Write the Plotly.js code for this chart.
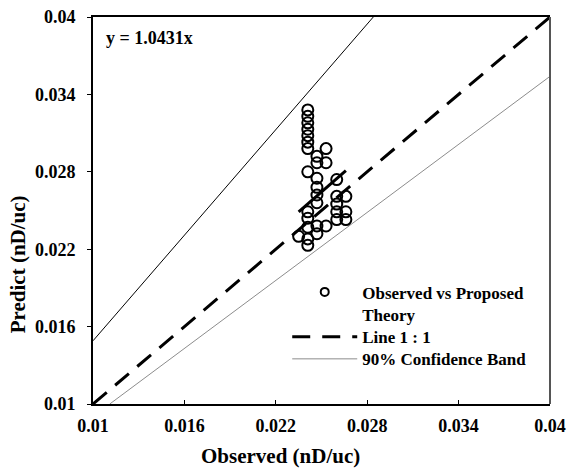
<!DOCTYPE html>
<html>
<head>
<meta charset="utf-8">
<script src="https://cdn.plot.ly/plotly-3.0.1.min.js"></script>
<style>html,body{margin:0;padding:0;background:#fff;}#chart{width:567px;height:468px;}</style>
</head>
<body>
<div id="chart"></div>
<script>
// Observed vs predicted points
var observed = [
  0.0241,0.0241,0.0241,0.0241,0.0241,0.0241,0.0241,0.0241,0.0241,0.0241,0.0241,0.0241,0.0241,
  0.0247,0.0247,0.0247,0.0247,0.0247,0.0247,0.0247,0.0247,
  0.0253,0.0253,0.0253,
  0.0260,0.0260,0.0260,0.0260,0.0260,
  0.0266,0.0266,0.0266,
  0.0235
];
var predicted = [
  0.0328,0.0323,0.0318,0.0313,0.0308,0.0303,0.0298,0.0280,0.0249,0.0244,0.0237,0.0228,0.0223,
  0.0292,0.0287,0.0275,0.0268,0.0262,0.0256,0.0238,0.0232,
  0.0298,0.0287,0.0238,
  0.0274,0.0261,0.0255,0.0249,0.0243,
  0.0261,0.0249,0.0243,
  0.0230
];
// Line 1:1
var oneX = [0.01, 0.04];
var oneY = [0.01, 0.04];
// Regression fit y = 1.0431x (short segment)
var fitX = [0.0235, 0.0266];
var fitY = [0.0249, 0.0281];
// 90% confidence band
var upperX = [0.01, 0.0284];
var upperY = [0.0149, 0.04];
var lowerX = [0.0111, 0.04];
var lowerY = [0.01, 0.0354];
// Axis ticks
var tickVals = [0.01, 0.016, 0.022, 0.028, 0.034, 0.04];
var tickText = ["0.01", "0.016", "0.022", "0.028", "0.034", "0.04"];

var serif = 'Liberation Serif, Times New Roman, serif';
var legFont = {family: serif, size: 17, weight: 'bold', color: '#000'};

var traces = [
  {x: upperX, y: upperY, mode: 'lines', line: {color: '#000', width: 1}, showlegend: false, hoverinfo: 'skip'},
  {x: lowerX, y: lowerY, mode: 'lines', line: {color: '#8c8c8c', width: 1}, showlegend: false, hoverinfo: 'skip'},
  {x: oneX, y: oneY, mode: 'lines', line: {color: '#000', width: 3, dash: '18px,11px'}, showlegend: false},
  {x: fitX, y: fitY, mode: 'lines', line: {color: '#000', width: 3}, showlegend: false},
  {x: observed, y: predicted, mode: 'markers', showlegend: false,
   marker: {symbol: 'circle-open', size: 11, color: '#000', line: {width: 2, color: '#000'}}},
  // legend entries
  {x: [null], y: [null], mode: 'markers', name: 'Observed vs Proposed<br>Theory', legend: 'legend',
   marker: {symbol: 'circle-open', size: 8, color: '#000', line: {width: 2, color: '#000'}}},
  {x: [null], y: [null], mode: 'lines', name: 'Line 1 : 1', legend: 'legend2',
   line: {color: '#000', width: 3, dash: '18px,12px'}},
  {x: [null], y: [null], mode: 'lines', name: '90% Confidence Band', legend: 'legend3',
   line: {color: '#8c8c8c', width: 1}}
];

function leg(y) {
  return {x: 0.425, y: y, xanchor: 'left', yanchor: 'top', bgcolor: 'rgba(0,0,0,0)',
          borderwidth: 0, itemwidth: 65, valign: 'top', font: legFont};
}

var layout = {
  width: 567, height: 468,
  margin: {l: 93, r: 17, t: 17, b: 64},
  paper_bgcolor: '#fff', plot_bgcolor: '#fff',
  font: {family: serif, color: '#000', size: 18, weight: 'bold'},
  xaxis: {
    range: [0.01, 0.04], tickvals: tickVals, ticktext: tickText,
    showgrid: false, zeroline: false, showline: true, linecolor: '#000', linewidth: 2,
    mirror: true, ticks: 'inside', ticklen: 4, tickwidth: 1, tickcolor: '#000',
    ticklabelstandoff: 4,
    tickfont: {family: serif, size: 18, weight: 'bold', color: '#000'}
  },
  yaxis: {
    range: [0.01, 0.04], tickvals: tickVals, ticktext: tickText,
    showgrid: false, zeroline: false, showline: true, linecolor: '#000', linewidth: 2,
    ticks: 'outside', ticklen: 4, tickwidth: 1, tickcolor: '#000',
    ticklabelstandoff: 8,
    tickfont: {family: serif, size: 18, weight: 'bold', color: '#000'}
  },
  shapes: [
    {type: 'line', xref: 'paper', yref: 'paper', x0: 1, x1: 1, y0: 0, y1: 1,
     line: {color: '#555', width: 2}}
  ],
  annotations: [
    {text: 'Observed (nD/uc)', xref: 'paper', yref: 'paper', x: 0.41, y: -0.135,
     xanchor: 'center', yanchor: 'middle', showarrow: false,
     font: {family: serif, size: 21, weight: 'bold', color: '#000'}},
    {text: 'Predict (nD/uc)', xref: 'paper', yref: 'paper', x: -0.165, y: 0.36,
     xanchor: 'center', yanchor: 'middle', textangle: -90, showarrow: false,
     font: {family: serif, size: 21, weight: 'bold', color: '#000'}},
    {text: 'y = 1.0431x', xref: 'paper', yref: 'paper', x: 0.025, y: 0.945,
     xanchor: 'left', yanchor: 'middle', showarrow: false,
     font: {family: serif, size: 18, weight: 'bold', color: '#000'}}
  ],
  legend: leg(0.335),
  legend2: leg(0.219),
  legend3: leg(0.162)
};

Plotly.newPlot('chart', traces, layout, {displayModeBar: false, staticPlot: true});
</script>
</body>
</html>
